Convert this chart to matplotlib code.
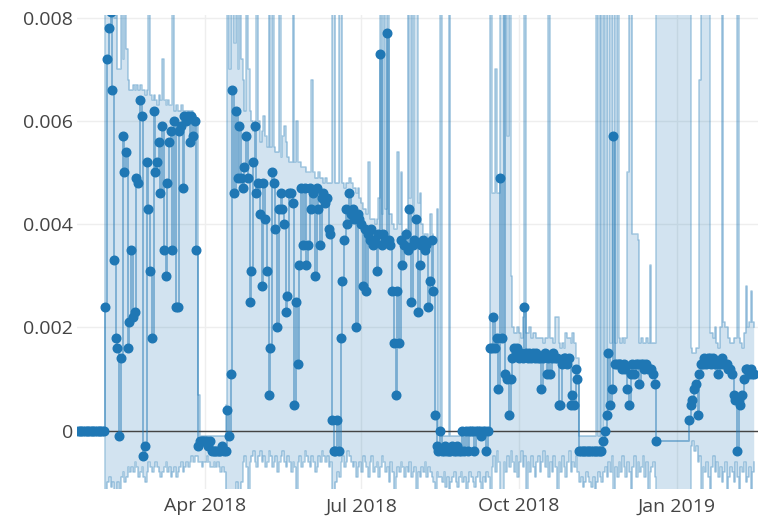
import numpy as np
import pandas as pd
import matplotlib
matplotlib.use("Agg")
import matplotlib.pyplot as plt

# daily series, units of 1e-4, first day 2018-01-17 (None = no row that day)
start_day = "2018-01-17"

value = (
    [0] * 16
    # Feb - mid Mar
    + [24, 72, 78, 81, 66, 33, 18, 16, -1, 14,
       57, 50, 54, 16, 21, 35, 22, 23, 49, 48,
       64, 61, -5, -3, 52, 43, 31, 18, 62, 50,
       52, 56, 46, 59, 35, 30, 48, 56, 58, 35,
       60, 24, 24, 58, 59, 47, 61, 60, 61, 56,
       61, 57, 60, 35]
    # late Mar - early Apr
    + [-3, -2, -2, -2, -2, -2, -3, -2, -4, -4,
       -4, -4, -4, -4, -3, -4, -4, 4, -1, 11]
    # Apr - Aug
    + [66, 46, 62, 49, 59, 49, 47, 51, 57, 49,
       25, 31, 52, 59, 46, 48, 42, 28, 48, 41,
       31, 7, 16, 50, 48, 39, 20, 43, 46, 43,
       40, 23, 26, 46, 46, 44, 5, 25, 13, 32,
       47, 36, 47, 32, 36, 47, 43, 46, 30, 47,
       43, 36, 45, 46, 44, 45, 39, 38, 2, -4,
       -4, 2, -4, 18, 29, 37, 43, 40, 46, 42,
       43, 41, 20, 42, 41, 40, 28, 39, 27, 38,
       37, 39, 36, 37, 31, 38, 73, 36, 38, 37,
       77, 37, 36, 27, 17, 7, 27, 17, 37, 32,
       36, 38, 35, 43, 25, 36, 37, 41, 23, 32,
       36, 37, 35, 36, 24, 29, 37, 27, 3, -3,
       -4]
    # late Aug - Sep
    + [0, -4, -4, -3, -4, -4, -4, -3, -4, -4,
       -3, -4, -4, 0, -4, 0, -4, 0, 0, 0,
       -4, 0, 0, 0, -1, 0, 0, -4, 0]
    # late Sep - Nov
    + [16, 16, 22, 16, 18, 8, 49, 18, 82, 11,
       10, 3, 10, 14, 16, 15, 16, 14, 15, 14,
       24, 15, 14, 15, 14, 15, 14, 15, 14, 14,
       8, 14, 15, 11, 14, 11, 14, 15, 14, 14,
       5, 5, 13, 14, 14, 13, 14, 5, 7, 5,
       12]
    + [10, -4, -4, -4, -4, -4, -4, -4, -4, -4,
       -4, -4, -4, -4, -4, -2, 0, 3]
    # Dec
    + [15, 5, 8, 57, 13, 13, 13, 13, 12, 13,
       12, 8, 5, 11, 13, 11, 13, 13, 9, 13,
       13, 12, 13, 12, 12, 12, 11, 9, -2]
    + [None] * 18
    # late Jan - Feb 2019
    + [2, 5, 6, 8, 9, 3, 11, 13, 13, 14,
       13, 14, 14, 13, 14, 13, 13, 11, 13, 14,
       13, 13, 13, 12, 12, 11, 7, 6, -4, 6,
       5, 7, 10, 12, 12, 11, 12, 11, 11]
)

upper = (
    [0] * 16
    + [99, 85, 99, 84, 99, 80, 99, 70, 70, 99,
       72, 99, 74, 68, 66, 66, 67, 66, 67, 66,
       67, 66, 66, 65, 66, 99, 65, 64, 65, 64,
       63, 65, 64, 72, 64, 63, 64, 63, 63, 99,
       62, 63, 62, 62, 63, 62, 62, 62, 62, 61,
       62, 61, 61, 60]
    + [7, -1, -1, -1, -1, -1, -1, -1, -1, -1,
       -1, -1, -1, -1, -1, -1, 5, 99, 70, 99]
    + [99, 75, 99, 70, 99, 72, 68, 62, 99, 70,
       62, 60, 58, 60, 99, 60, 56, 58, 61, 57,
       55, 99, 55, 99, 55, 54, 54, 99, 53, 57,
       59, 56, 53, 52, 52, 99, 52, 60, 52, 52,
       51, 51, 51, 50, 50, 50, 68, 50, 49, 49,
       50, 49, 49, 48, 49, 48, 48, 48, 99, 99,
       48, 48, 99, 99, 48, 47, 48, 48, 49, 48,
       47, 47, 46, 47, 45, 44, 43, 43, 42, 52,
       41, 41, 41, 40, 41, 45, 99, 42, 99, 43,
       99, 42, 42, 40, 39, 39, 54, 40, 50, 38,
       38, 39, 99, 45, 99, 42, 99, 99, 44, 46,
       40, 38, 37, 38, 37, 42, 38, 37, 37, 43,
       0]
    + [99, -1, -1, -1, -1, 99, -1, -1, -1, -1,
       -1, -1, -1, 0, 0, 0, 0, 0, 0, 0,
       0, 0, 0, 0, 0, 0, 0, 0, 0]
    + [99, 46, 46, 70, 46, 46, 99, 99, 99, 99,
       57, 99, 30, 20, 19, 19, 20, 19, 18, 22,
       99, 19, 19, 20, 18, 19, 19, 18, 18, 18,
       18, 17, 18, 18, 99, 18, 18, 17, 22, 22,
       17, 16, 17, 16, 19, 18, 18, 17, 19, 17,
       14]
    + [14, -1, -1, -1, -1, -1, -1, -1, -1, -1,
       -1, 99, -1, 99, -1, 99, 2, 99]
    + [99, 17, 99, 99, 17, 99, 18, 17, 18, 17,
       18, 50, 99, 99, 38, 38, 38, 37, 17, 18,
       17, 17, 18, 17, 32, 17, 17, 17, 99]
    + [None] * 18
    + [99, 16, 15, 15, 16, 16, 68, 99, 99, 99,
       99, 99, 19, 19, 18, 20, 17, 16, 20, 99,
       21, 20, 20, 18, 17, 17, 18, 18, 99, 18,
       17, 16, 19, 28, 20, 21, 27, 21, 20]
)

lower = (
    [0] * 16
    + [-99, -10, -9, -11, -10, -99, -99, -10, -99, -9,
       -8, -10, -9, -7, -8, -7, -8, -6, -7, -9,
       -8, -7, -9, -10, -8, -6, -7, -8, -7, -6,
       -7, -8, -9, -8, -7, -6, -8, -7, -9, -8,
       -7, -9, -8, -7, -6, -8, -7, -6, -7, -6,
       -5, -6, -5, -5]
    + [-6, -6, -7, -6, -6, -5, -6, -7, -7, -6,
       -7, -6, -7, -8, -7, -8, -99, -99, -99, -99]
    + [-99, -99, -10, -99, -99, -10, -6, -5, -7, -99,
       -6, -5, -4, -6, -7, -5, -4, -6, -5, -7,
       -6, -4, -5, -7, -6, -5, -8, -6, -5, -4,
       -6, -7, -5, -6, -8, -6, -7, -99, -6, -5,
       -7, -6, -4, -5, -6, -7, -5, -6, -8, -7,
       -5, -6, -4, -5, -6, -5, -7, -6, -99, -99,
       -10, -8, -9, -6, -5, -7, -6, -4, -5, -6,
       -7, -6, -9, -7, -6, -8, -5, -6, -7, -9,
       -6, -5, -8, -7, -6, -9, -7, -5, -6, -8,
       -7, -10, -6, -8, -99, -9, -7, -8, -6, -7,
       -9, -7, -8, -6, -9, -8, -7, -99, -8, -9,
       -7, -8, -6, -9, -7, -8, -9, -10, -99, -8,
       -9]
    + [-9, -10, -8, -11, -9, -99, -10, -9, -8, -10,
       -11, -9, -8, -10, -9, -99, -10, -8, -9, -10,
       -11, -9, -8, -10, -99, -9, -10, -8, -9]
    + [-99, -7, -5, -8, -4, -6, -99, -99, -6, -8,
       -5, -7, -4, -6, -8, -5, -9, -6, -4, -7,
       -5, -99, -6, -8, -5, -7, -9, -6, -5, -8,
       -6, -4, -7, -5, -9, -6, -8, -5, -7, -99,
       -6, -8, -5, -7, -9, -6, -4, -8, -6, -7,
       -5]
    + [-8, -10, -9, -11, -10, -8, -9, -10, -11, -9,
       -99, -10, -8, -9, -10, -8, -7, -9]
    + [-6, -8, -5, -99, -7, -9, -6, -8, -5, -7,
       -9, -6, -8, -99, -7, -5, -9, -6, -8, -7,
       -5, -9, -6, -99, -8, -7, -6, -9, -99]
    + [None] * 18
    + [-99, -3, -2, -4, -3, -6, -5, -99, -7, -8,
       -6, -9, -99, -7, -5, -8, -6, -9, -7, -10,
       -8, -6, -99, -9, -7, -8, -10, -6, -9, -99,
       -7, -8, -6, -10, -9, -7, -99, -8, -6]
)

x_ticks = ["2018-04-01", "2018-07-01", "2018-10-01", "2019-01-01"]
x_labels = ["Apr 2018", "Jul 2018", "Oct 2018", "Jan 2019"]
y_ticks = [0, 0.002, 0.004, 0.006, 0.008]
y_labels = ["0", "0.002", "0.004", "0.006", "0.008"]

days = pd.date_range(start_day, periods=len(value), freq="D")
df = pd.DataFrame({"value": value, "upper": upper, "lower": lower},
                  index=days, dtype=float).dropna() * 1e-4

blue = "#1f77b4"
plt.rcParams["font.family"] = ["Open Sans", "DejaVu Sans"]

fig = plt.figure(figsize=(7.58, 5.17), dpi=100)
ax = fig.add_axes([77 / 758, 28 / 517, 681 / 758, 474 / 517])

# confidence band
ax.fill_between(df.index, df["lower"], df["upper"], step="post",
                color=blue, alpha=0.2, lw=0, zorder=2)
ax.step(df.index, df["upper"], where="post", color=blue, alpha=0.38, lw=1.1, zorder=3)
ax.step(df.index, df["lower"], where="post", color=blue, alpha=0.38, lw=1.1, zorder=3)
ax.axhline(0, color="#444444", lw=1, zorder=4)

# main series
ax.step(df.index, df["value"], where="post", color=blue, alpha=0.5, lw=1.3, zorder=5)
ax.plot(df.index, df["value"], "o", ms=6.2, color=blue, mec=blue, zorder=6)

ax.set_xlim(pd.Timestamp("2018-01-16 10:00"), pd.Timestamp("2019-02-17 05:00"))
ax.set_ylim(-0.00113, 0.00805)
ax.set_xticks(pd.to_datetime(x_ticks))
ax.set_xticklabels(x_labels)
ax.set_yticks(y_ticks)
ax.set_yticklabels(y_labels)

ax.grid(True, color="#eeeeee", lw=1, zorder=0)
ax.set_axisbelow(True)
for s in ax.spines.values():
    s.set_visible(False)
ax.tick_params(axis="both", length=0, labelsize=14, colors="#444444")
ax.tick_params(axis="y", pad=3)
ax.tick_params(axis="x", pad=6)

fig.savefig("out.png", dpi=100)
